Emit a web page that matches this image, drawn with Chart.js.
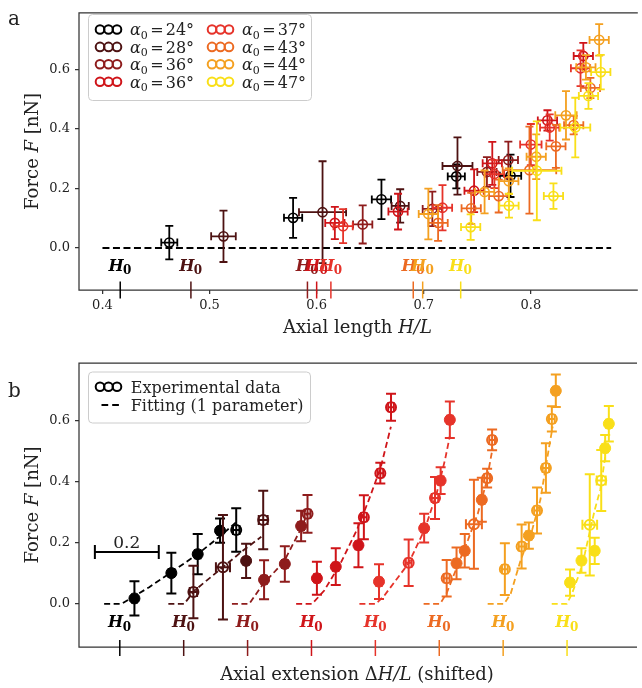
<!DOCTYPE html>
<html>
<head>
<meta charset="utf-8">
<title>Force versus axial length</title>
<script src="https://cdn.jsdelivr.net/npm/chart.js@4.4.1/dist/chart.umd.min.js"></script>
<style>
  html, body { margin: 0; padding: 0; background: #fff; }
  #figure { position: relative; width: 642px; height: 688px; }
  #figure canvas { position: absolute; left: 0; }
  #panelA { top: 0; }
  #panelB { top: 344px; }
</style>
</head>
<body>
<div id="figure">
  <canvas id="panelA" width="642" height="344"></canvas>
  <canvas id="panelB" width="642" height="344"></canvas>
</div>
<script>
// ---------------- data ----------------
// initial angle of each sample (degrees)
const alpha0 = [24, 28, 36, 36, 37, 43, 44, 47];
const colors = ['#000000', '#4d1212', '#8e1c1c', '#cf1419', '#e6332a', '#ec6a22', '#f4a020', '#f9df18'];
// rest length H0/L of each sample
const restLength = [0.4166, 0.4826, 0.5914, 0.6000, 0.6133, 0.6902, 0.6990, 0.7345];

// axial length H/L of each measurement
const axialLength = [
  [0.4624, 0.578, 0.6605, 0.7304, 0.781],
  [0.513, 0.6055, 0.678, 0.7315],
  [0.643, 0.708, 0.759, 0.779],
  [0.617, 0.676, 0.747, 0.764, 0.8155, 0.849],
  [0.6247, 0.7175, 0.766, 0.800, 0.8176, 0.8464],
  [0.7134, 0.7443, 0.770, 0.7987, 0.8234, 0.840, 0.8556],
  [0.7043, 0.7568, 0.7794, 0.805, 0.8328, 0.8514, 0.8638],
  [0.7438, 0.7796, 0.8056, 0.8211, 0.8415, 0.8538, 0.8653]
];
// measured force F [nN]
const force = [
  [0.018, 0.101, 0.163, 0.240, 0.242],
  [0.039, 0.120, 0.141, 0.275],
  [0.079, 0.131, 0.255, 0.295],
  [0.084, 0.122, 0.192, 0.284, 0.428, 0.644],
  [0.073, 0.135, 0.248, 0.347, 0.404, 0.603],
  [0.084, 0.133, 0.174, 0.261, 0.341, 0.412, 0.537],
  [0.114, 0.188, 0.224, 0.306, 0.445, 0.606, 0.698],
  [0.070, 0.142, 0.259, 0.174, 0.404, 0.510, 0.590]
];
// force uncertainty (half width)
const forceErr = [
  [0.056, 0.067, 0.066, 0.040, 0.071],
  [0.086, 0.171, 0.056, 0.096],
  [0.064, 0.058, 0.050, 0.062],
  [0.054, 0.060, 0.072, 0.072, 0.034, 0.044],
  [0.057, 0.076, 0.047, 0.069, 0.044, 0.060],
  [0.060, 0.052, 0.055, 0.146, 0.072, 0.031, 0.034],
  [0.085, 0.072, 0.043, 0.075, 0.081, 0.041, 0.053],
  [0.043, 0.040, 0.166, 0.043, 0.100, 0.043, 0.058]
];
// length uncertainty (half width)
const lengthErr = [
  [0.0075, 0.0085, 0.009, 0.008, 0.010],
  [0.0115, 0.022, 0.008, 0.014],
  [0.009, 0.009, 0.009, 0.009],
  [0.009, 0.009, 0.009, 0.009, 0.009, 0.009],
  [0.009, 0.009, 0.009, 0.010, 0.009, 0.009],
  [0.009, 0.009, 0.009, 0.025, 0.009, 0.009, 0.009],
  [0.009, 0.009, 0.009, 0.009, 0.010, 0.009, 0.009],
  [0.009, 0.009, 0.023, 0.009, 0.014, 0.009, 0.009]
];
// marker kind in the shifted panel: 1 = solid, 0 = open
const solidMarker = [
  [1, 1, 1, 1, 0],
  [0, 0, 1, 0],
  [1, 1, 1, 0],
  [1, 1, 1, 0, 0, 0],
  [1, 0, 1, 0, 1, 1],
  [0, 1, 1, 0, 1, 0, 0],
  [0, 0, 1, 0, 0, 0, 1],
  [1, 1, 0, 1, 0, 1, 1]
];
// one-parameter fits: extension (H - H0)/L and force
const fitExtension = [
  [-0.049, 0.005, 0.092, 0.163, 0.246, 0.314, 0.367],
  [-0.048, 0.0015, 0.034, 0.084, 0.135, 0.186, 0.243],
  [-0.049, 0.005, 0.049, 0.113, 0.164, 0.189],
  [-0.048, 0.002, 0.040, 0.090, 0.141, 0.179, 0.217, 0.2485],
  [-0.050, 0.001, 0.027, 0.104, 0.156, 0.192, 0.218, 0.233],
  [-0.049, 0.0025, 0.023, 0.054, 0.090, 0.121, 0.147, 0.167],
  [-0.0485, 0.003, 0.024, 0.055, 0.091, 0.1165, 0.137, 0.155],
  [-0.048, -0.001, 0.014, 0.040, 0.056, 0.0866, 0.104, 0.1206]
];
const fitForce = [
  [0, 0, 0.055, 0.105, 0.165, 0.222, 0.270],
  [0, 0, 0.044, 0.087, 0.131, 0.175, 0.220],
  [0, 0, 0.066, 0.137, 0.240, 0.300],
  [0, 0, 0.044, 0.131, 0.240, 0.339, 0.448, 0.580],
  [0, 0, 0.026, 0.133, 0.248, 0.363, 0.472, 0.549],
  [0, 0, 0.035, 0.117, 0.210, 0.297, 0.396, 0.510],
  [0, 0, 0.035, 0.144, 0.243, 0.341, 0.472, 0.581],
  [0, 0, 0.030, 0.103, 0.166, 0.308, 0.374, 0.489]
];

// axes
const forceTicks = [0.0, 0.2, 0.4, 0.6];
const lengthTicks = [0.4, 0.5, 0.6, 0.7, 0.8];
const zeroLine = [0.4, 0.875];      // extent of the F = 0 reference line
const shiftStep = 0.2;              // horizontal offset between samples in panel b
const scaleBarStart = -0.078, scaleBarLength = 0.2, scaleBarForce = 0.17;
const h0LabelForce = -0.077;

// axis titles as runs of [text, italic]
const forceTitle = [['Force ', false], ['F', true], [' [nN]', false]];
const lengthTitle = [['Axial length ', false], ['H/L', true]];
const extensionTitle = [['Axial extension Δ', false], ['H/L', true], [' (shifted)', false]];

// ---------------- drawing helpers ----------------
const serif = '"DejaVu Serif", "Liberation Serif", serif';
const ink = '#222222';

function legendBox(ctx, x, y, w, h) {
  const r = 4;
  ctx.save();
  ctx.beginPath();
  ctx.moveTo(x + r, y);
  ctx.arcTo(x + w, y, x + w, y + h, r);
  ctx.arcTo(x + w, y + h, x, y + h, r);
  ctx.arcTo(x, y + h, x, y, r);
  ctx.arcTo(x, y, x + w, y, r);
  ctx.closePath();
  ctx.fillStyle = 'rgba(255,255,255,0.8)';
  ctx.fill();
  ctx.strokeStyle = '#cccccc';
  ctx.lineWidth = 1;
  ctx.stroke();
  ctx.restore();
}

function rings(ctx, x0, y, color) {
  ctx.save();
  ctx.strokeStyle = color;
  ctx.lineWidth = 2;
  [5, 13.5, 22].forEach(dx => {
    ctx.beginPath();
    ctx.arc(x0 + dx, y, 4.3, 0, Math.PI * 2);
    ctx.stroke();
  });
  ctx.restore();
}

function alphaText(ctx, x, y, value) {
  ctx.save();
  ctx.fillStyle = ink;
  ctx.textBaseline = 'alphabetic';
  ctx.font = `italic 16px ${serif}`;
  ctx.fillText('α', x, y);
  x += ctx.measureText('α').width;
  ctx.font = `11px ${serif}`;
  ctx.fillText('0', x, y + 3.5);
  x += ctx.measureText('0').width + 2.5;
  ctx.font = `16px ${serif}`;
  ctx.fillText('=', x, y);
  x += ctx.measureText('=').width + 2;
  ctx.fillText(value + '°', x, y);
  ctx.restore();
}

// draw a run of mixed upright/italic text centred at (cx, cy)
function mixedText(ctx, runs, cx, cy, rotate) {
  const fontOf = it => `${it ? 'italic ' : ''}18px ${serif}`;
  ctx.save();
  ctx.fillStyle = ink;
  ctx.textBaseline = 'middle';
  ctx.textAlign = 'left';
  let total = 0;
  runs.forEach(([t, it]) => { ctx.font = fontOf(it); total += ctx.measureText(t).width; });
  ctx.translate(cx, cy);
  if (rotate) ctx.rotate(-Math.PI / 2);
  let x = -total / 2;
  runs.forEach(([t, it]) => {
    ctx.font = fontOf(it);
    ctx.fillText(t, x, 0);
    x += ctx.measureText(t).width;
  });
  ctx.restore();
}

const axisTitlePlugin = {
  id: 'axisTitles',
  afterDraw(chart, args, opts) {
    const {ctx, chartArea: a} = chart;
    mixedText(ctx, opts.x, (a.left + a.right) / 2, opts.xTitleY, false);
    mixedText(ctx, opts.y, opts.yTitleX, (a.top + a.bottom) / 2, true);
  }
};

const framePlugin = {
  id: 'frame',
  beforeDatasetsDraw(chart) {
    const {ctx, chartArea: a} = chart;
    ctx.save();
    ctx.strokeStyle = '#333333';
    ctx.lineWidth = 1.25;
    ctx.beginPath();
    ctx.moveTo(a.right + 2, a.top);
    ctx.lineTo(a.left, a.top);
    ctx.lineTo(a.left, a.bottom);
    ctx.lineTo(a.right + 2, a.bottom);
    ctx.stroke();
    ctx.restore();
  }
};

const errorBarPlugin = {
  id: 'errorBars',
  beforeDatasetDraw(chart, args) {
    const ds = chart.data.datasets[args.index];
    if (!ds.yErr) return;
    const {ctx} = chart;
    const xs = chart.scales.x, ys = chart.scales.y;
    const c = ds.capHalf;
    ctx.save();
    ctx.strokeStyle = ds.errColor;
    ctx.lineWidth = ds.errWidth;
    ds.data.forEach((p, i) => {
      const px = xs.getPixelForValue(p.x), py = ys.getPixelForValue(p.y);
      const y1 = ys.getPixelForValue(p.y - ds.yErr[i]);
      const y2 = ys.getPixelForValue(p.y + ds.yErr[i]);
      const x1 = xs.getPixelForValue(p.x - ds.xErr[i]);
      const x2 = xs.getPixelForValue(p.x + ds.xErr[i]);
      ctx.beginPath();
      ctx.moveTo(px, y1); ctx.lineTo(px, y2);
      ctx.moveTo(px - c, y1); ctx.lineTo(px + c, y1);
      ctx.moveTo(px - c, y2); ctx.lineTo(px + c, y2);
      ctx.moveTo(x1, py); ctx.lineTo(x2, py);
      ctx.moveTo(x1, py - c); ctx.lineTo(x1, py + c);
      ctx.moveTo(x2, py - c); ctx.lineTo(x2, py + c);
      ctx.stroke();
    });
    ctx.restore();
  }
};

const h0Plugin = {
  id: 'h0Marks',
  afterDraw(chart, args, opts) {
    const {ctx, chartArea: a} = chart;
    const xs = chart.scales.x, ys = chart.scales.y;
    const base = ys.getPixelForValue(h0LabelForce);
    opts.positions.forEach((v, s) => {
      const px = xs.getPixelForValue(v);
      ctx.save();
      ctx.strokeStyle = colors[s];
      ctx.lineWidth = 1.5;
      ctx.beginPath();
      ctx.moveTo(px, a.bottom - opts.tickIn);
      ctx.lineTo(px, a.bottom + opts.tickOut);
      ctx.stroke();
      ctx.fillStyle = colors[s];
      ctx.font = `italic bold 16px ${serif}`;
      const wH = ctx.measureText('H').width;
      ctx.font = `bold 12px ${serif}`;
      const w0 = ctx.measureText('0').width;
      const x0 = px - (wH + w0) / 2;
      ctx.font = `italic bold 16px ${serif}`;
      ctx.fillText('H', x0, base);
      ctx.font = `bold 12px ${serif}`;
      ctx.fillText('0', x0 + wH - 0.5, base + 3.5);
      ctx.restore();
    });
  }
};

const panelLabelPlugin = {
  id: 'panelLabel',
  afterDraw(chart, args, opts) {
    const ctx = chart.ctx;
    ctx.save();
    ctx.fillStyle = ink;
    ctx.font = `20px ${serif}`;
    ctx.fillText(opts.text, 8, opts.y);
    ctx.restore();
  }
};

const legendAPlugin = {
  id: 'legendA',
  afterDraw(chart) {
    const ctx = chart.ctx;
    legendBox(ctx, 88.5, 14.5, 223, 86);
    alpha0.forEach((a, s) => {
      const col = Math.floor(s / 4), row = s % 4;
      const y = 29.5 + row * 17.4;
      const x0 = col ? 207 : 95;
      rings(ctx, x0, y, colors[s]);
      alphaText(ctx, x0 + 35, y + 5.8, a);
    });
  }
};

const legendBPlugin = {
  id: 'legendB',
  afterDraw(chart) {
    const ctx = chart.ctx;
    legendBox(ctx, 88.5, 28, 222, 51);
    rings(ctx, 95, 42.7, '#000000');
    ctx.save();
    ctx.strokeStyle = '#000000';
    ctx.lineWidth = 1.8;
    ctx.beginPath();
    ctx.moveTo(101.5, 61); ctx.lineTo(108.2, 61);
    ctx.moveTo(112.2, 61); ctx.lineTo(118.9, 61);
    ctx.stroke();
    ctx.fillStyle = ink;
    ctx.font = `16px ${serif}`;
    ctx.fillText('Experimental data', 130.7, 48.5);
    ctx.fillText('Fitting (1 parameter)', 130.7, 66.8);
    ctx.restore();
  }
};

const scaleBarPlugin = {
  id: 'scaleBar',
  afterDatasetsDraw(chart) {
    const {ctx} = chart;
    const xs = chart.scales.x, ys = chart.scales.y;
    const x1 = xs.getPixelForValue(scaleBarStart);
    const x2 = xs.getPixelForValue(scaleBarStart + scaleBarLength);
    const y = ys.getPixelForValue(scaleBarForce);
    ctx.save();
    ctx.strokeStyle = '#000000';
    ctx.lineWidth = 2;
    ctx.beginPath();
    ctx.moveTo(x1, y); ctx.lineTo(x2, y);
    ctx.moveTo(x1, y - 7); ctx.lineTo(x1, y + 7);
    ctx.moveTo(x2, y - 7); ctx.lineTo(x2, y + 7);
    ctx.stroke();
    ctx.fillStyle = ink;
    ctx.font = `17px ${serif}`;
    ctx.textAlign = 'center';
    ctx.fillText(scaleBarLength.toFixed(1), (x1 + x2) / 2, y - 4);
    ctx.restore();
  }
};

function forceAxis() {
  return {
    type: 'linear', min: -0.141, max: 0.789,
    afterFit: s => { s.width = 79; },
    afterBuildTicks: s => { s.ticks = forceTicks.map(v => ({value: v})); },
    ticks: {font: {family: serif, size: 13}, color: ink, padding: 5, callback: v => v.toFixed(1)},
    grid: {display: true, drawOnChartArea: false, drawTicks: true, tickLength: 4, color: '#333333', lineWidth: 1.25},
    border: {display: false},
    title: {display: false, text: 'Force F [nN]'}
  };
}

// ---------------- panel a: force vs axial length ----------------
const datasetsA = [{
  type: 'line', label: 'F = 0',
  data: zeroLine.map(h => ({x: h, y: 0})),
  borderColor: '#000000', borderWidth: 2, borderDash: [7, 3.5],
  pointRadius: 0, fill: false, order: 20
}];
alpha0.forEach((a, s) => {
  datasetsA.push({
    type: 'scatter', label: `α0 = ${a}°`,
    data: axialLength[s].map((h, i) => ({x: h, y: force[s][i]})),
    xErr: lengthErr[s], yErr: forceErr[s],
    errColor: colors[s], errWidth: 1.8, capHalf: 4,
    pointRadius: 4.6, pointBorderWidth: 1.6,
    pointBackgroundColor: 'rgba(255,255,255,0)', pointBorderColor: colors[s],
    order: -s
  });
});

new Chart(document.getElementById('panelA'), {
  type: 'scatter',
  data: {datasets: datasetsA},
  options: {
    responsive: false, animation: false, devicePixelRatio: 1,
    layout: {padding: {top: 5, right: 0, bottom: 0, left: 0}},
    plugins: {
      legend: {display: false}, tooltip: {enabled: false},
      h0Marks: {positions: restLength, tickIn: 8.5, tickOut: 8.5},
      panelLabel: {text: 'a', y: 25},
      axisTitles: {x: lengthTitle, y: forceTitle, xTitleY: 328.5, yTitleX: 33}
    },
    scales: {
      x: {
        type: 'linear', min: 0.3781, max: 0.898,
        afterFit: s => { s.height = 54; },
        afterBuildTicks: s => { s.ticks = lengthTicks.map(v => ({value: v})); },
        ticks: {font: {family: serif, size: 13}, color: ink, padding: 4, maxRotation: 0, autoSkip: false,
                callback: v => v.toFixed(1)},
        grid: {display: true, drawOnChartArea: false, drawTicks: true, tickLength: 4, color: '#333333', lineWidth: 1.25},
        border: {display: false},
        title: {display: false, text: 'Axial length H/L'}
      },
      y: forceAxis()
    }
  },
  plugins: [framePlugin, errorBarPlugin, h0Plugin, legendAPlugin, panelLabelPlugin, axisTitlePlugin]
});

// ---------------- panel b: shifted extension with fits ----------------
const datasetsB = [];
alpha0.forEach((a, s) => {
  datasetsB.push({
    type: 'line', label: `fit α0 = ${a}°`,
    data: fitExtension[s].map((d, i) => ({x: d + shiftStep * s, y: fitForce[s][i]})),
    borderColor: colors[s], borderWidth: 1.8, borderDash: [6, 3.5],
    pointRadius: 0, fill: false, tension: 0, order: 30 - s
  });
  datasetsB.push({
    type: 'scatter', label: `α0 = ${a}°`,
    data: axialLength[s].map((h, i) => ({x: h - restLength[s] + shiftStep * s, y: force[s][i]})),
    xErr: lengthErr[s], yErr: forceErr[s],
    errColor: colors[s], errWidth: 2, capHalf: 5,
    pointRadius: solidMarker[s].map(f => f ? 5.5 : 5),
    pointBorderWidth: solidMarker[s].map(f => f ? 1 : 2),
    pointBackgroundColor: solidMarker[s].map(f => f ? colors[s] : 'rgba(255,255,255,0)'),
    pointBorderColor: colors[s],
    order: -s
  });
});

new Chart(document.getElementById('panelB'), {
  type: 'scatter',
  data: {datasets: datasetsB},
  options: {
    responsive: false, animation: false, devicePixelRatio: 1,
    layout: {padding: {top: 19, right: 0, bottom: 0, left: 0}},
    plugins: {
      legend: {display: false}, tooltip: {enabled: false},
      h0Marks: {positions: alpha0.map((a, s) => shiftStep * s), tickIn: 7, tickOut: 9},
      panelLabel: {text: 'b', y: 53},
      axisTitles: {x: extensionTitle, y: forceTitle, xTitleY: 331.5, yTitleX: 33}
    },
    scales: {
      x: {
        type: 'linear', min: -0.1277, max: 1.6127,
        afterFit: s => { s.height = 41; },
        ticks: {display: false},
        grid: {display: false},
        border: {display: false},
        title: {display: false, text: 'Axial extension ΔH/L (shifted)'}
      },
      y: forceAxis()
    }
  },
  plugins: [framePlugin, errorBarPlugin, scaleBarPlugin, h0Plugin, legendBPlugin, panelLabelPlugin, axisTitlePlugin]
});
</script>
</body>
</html>
